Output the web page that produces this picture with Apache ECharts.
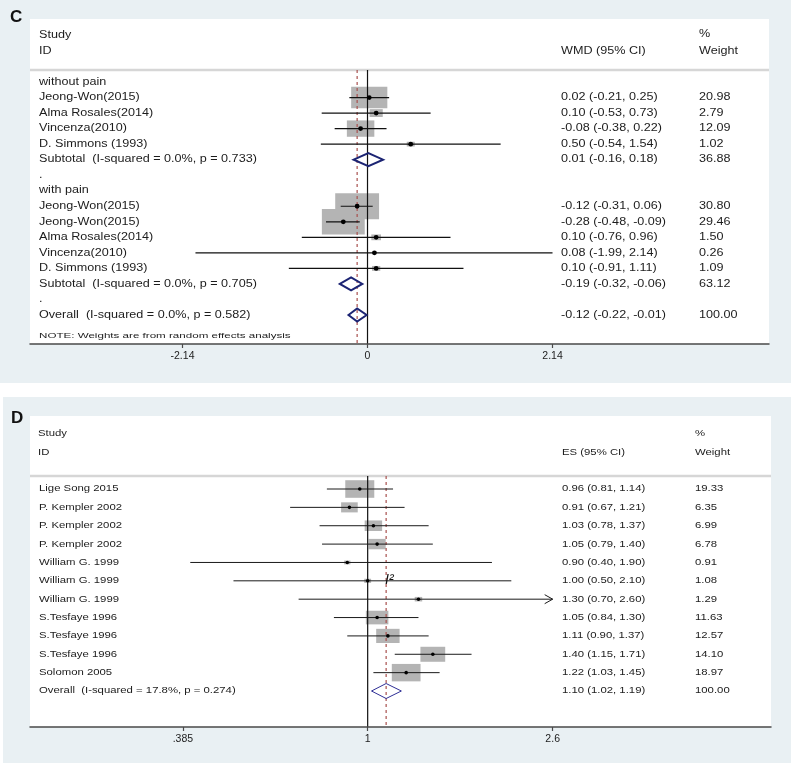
<!DOCTYPE html>
<html><head><meta charset="utf-8">
<script src="https://cdn.jsdelivr.net/npm/echarts@6/dist/echarts.min.js"></script>
<style>html,body{margin:0;padding:0;background:#fff}#chart{width:793px;height:765px}</style>
</head><body><div id="chart"></div>
<script>
// ---------- Panel C data (WMD) ----------
const cStudies = ["without pain","Jeong-Won(2015)","Alma Rosales(2014)","Vincenza(2010)","D. Simmons (1993)",
  "Subtotal  (I-squared = 0.0%, p = 0.733)",".","with pain","Jeong-Won(2015)","Jeong-Won(2015)",
  "Alma Rosales(2014)","Vincenza(2010)","D. Simmons (1993)","Subtotal  (I-squared = 0.0%, p = 0.705)",".",
  "Overall  (I-squared = 0.0%, p = 0.582)"];
const cKinds = ["group","study","study","study","study","pooled","blank","group","study","study","study","study","study","pooled","blank","pooled"];
const cEst    = [null, 0.02, 0.10, -0.08, 0.50, 0.01, null, null, -0.12, -0.28, 0.10, 0.08, 0.10, -0.19, null, -0.12];
const cLow    = [null,-0.21,-0.53, -0.38,-0.54,-0.16, null, null, -0.31, -0.48,-0.76,-1.99,-0.91, -0.32, null, -0.22];
const cHigh   = [null, 0.25, 0.73,  0.22, 1.54, 0.18, null, null,  0.06, -0.09, 0.96, 2.14, 1.11, -0.06, null, -0.01];
const cWeight = [null,20.98, 2.79, 12.09, 1.02,36.88, null, null, 30.80, 29.46, 1.50, 0.26, 1.09, 63.12, null,100.00];
const cTickValues = [-2.14, 0, 2.14];
const cTickLabels = ["-2.14", "0", "2.14"];
const cNull = 0;
const cOverall = -0.12;
const cHeader = {study:"Study", id:"ID", effect:"WMD (95% CI)", pct:"%", weight:"Weight"};
const cNote = "NOTE: Weights are from random effects analysis";

// ---------- Panel D data (ES, ratio scale) ----------
const dStudies = ["Lige Song 2015","P. Kempler 2002","P. Kempler 2002","P. Kempler 2002","William G. 1999",
  "William G. 1999","William G. 1999","S.Tesfaye 1996","S.Tesfaye 1996","S.Tesfaye 1996","Solomon 2005",
  "Overall  (I-squared = 17.8%, p = 0.274)"];
const dKinds = ["study","study","study","study","study","study","study","study","study","study","study","pooled"];
const dEst    = [0.96, 0.91, 1.03, 1.05, 0.90, 1.00, 1.30, 1.05, 1.11, 1.40, 1.22, 1.10];
const dLow    = [0.81, 0.67, 0.78, 0.79, 0.40, 0.50, 0.70, 0.84, 0.90, 1.15, 1.03, 1.02];
const dHigh   = [1.14, 1.21, 1.37, 1.40, 1.90, 2.10, 2.60, 1.30, 1.37, 1.71, 1.45, 1.19];
const dWeight = [19.33, 6.35, 6.99, 6.78, 0.91, 1.08, 1.29, 11.63, 12.57, 14.10, 18.97, 100.00];
const dTickValues = [0.385, 1, 2.6];
const dTickLabels = [".385", "1", "2.6"];
const dNull = 1;
const dOverall = 1.10;
const dHeader = {study:"Study", id:"ID", effect:"ES (95% CI)", pct:"%", weight:"Weight"};

// ---------- styling / layout ----------
const FONT = '"Liberation Sans", Arial, Helvetica, sans-serif';
const TXT = '#1c1c1c';
const BG = '#e9f0f3';

const panels = [
  { grid:{left:30, right:24, top:70, bottom:421}, xType:'value', xMin:-3.904, xMax:4.644, yMin:-0.7725, yMax:16.867,
    labels:cStudies, kinds:cKinds, est:cEst, low:cLow, high:cHigh, weight:cWeight, nullV:cNull, overall:cOverall,
    ticks:cTickValues, tickLabels:cTickLabels, labelX:39, esX:561, wX:699, fs:10, sx:1.26,
    boxW:7.9, boxH:4.7, dotR:2.4, ciW:1.2, ciColor:'#111', diaH:6.5, diaColor:'#1c2473', diaW:2, arrows:[] },
  { grid:{left:30, right:22, top:476, bottom:38}, xType:'log', xMin:0.1748, xMax:8.03, yMin:-0.708, yMax:12.96,
    labels:dStudies, kinds:dKinds, est:dEst, low:dLow, high:dHigh, weight:dWeight, nullV:dNull, overall:dOverall,
    ticks:dTickValues, tickLabels:dTickLabels, labelX:39, esX:562, wX:695, fs:9, sx:1.26,
    boxW:6.6, boxH:4.0, dotR:1.8, ciW:1, ciColor:'#1a1a1a', diaH:7.5, diaColor:'#2f2f96', diaW:1, arrows:[6] }
];

function fmt(v){ return v.toFixed(2); }
function tEl(x, y, s, fs, sx, extra){
  return Object.assign({type:'text', x:x, y:y, scaleX:sx,
    style:{text:s, fill:TXT, fontSize:fs, fontFamily:FONT, verticalAlign:'middle', align:'left'}}, extra || {});
}

function boxRender(p){
  return function(params, api){
    const i = params.dataIndex;
    if (p.kinds[i] !== 'study') return null;
    const c = api.coord([p.est[i], i]);
    const s = Math.sqrt(p.weight[i]);
    const w = p.boxW * s, h = p.boxH * s;
    return {type:'rect', shape:{x:c[0]-w/2, y:c[1]-h/2, width:w, height:h}, style:{fill:'#b4b4b4'}};
  };
}
function refRender(p){
  return function(params, api){
    const cs = params.coordSys;
    const x0 = api.coord([p.nullV, 0])[0];
    const x1 = api.coord([p.overall, 0])[0];
    return {type:'group', children:[
      {type:'line', shape:{x1:x0, y1:cs.y, x2:x0, y2:cs.y+cs.height}, style:{stroke:'#111', lineWidth:1.2}},
      {type:'line', shape:{x1:x1, y1:cs.y, x2:x1, y2:cs.y+cs.height}, style:{stroke:'#a8504e', lineWidth:1.2, lineDash:[3,3]}}
    ]};
  };
}
function mainRender(p){
  return function(params, api){
    const i = params.dataIndex;
    const yc = api.coord([p.nullV, i])[1];
    const kids = [tEl(p.labelX, yc, p.labels[i], p.fs, p.sx)];
    const k = p.kinds[i];
    if (k === 'study' || k === 'pooled'){
      kids.push(tEl(p.esX, yc, fmt(p.est[i]) + ' (' + fmt(p.low[i]) + ', ' + fmt(p.high[i]) + ')', p.fs, p.sx));
      kids.push(tEl(p.wX, yc, fmt(p.weight[i]), p.fs, p.sx));
      const a = api.coord([p.low[i], i]), b = api.coord([p.high[i], i]), c = api.coord([p.est[i], i]);
      if (k === 'study'){
        kids.push({type:'line', shape:{x1:a[0], y1:yc, x2:b[0], y2:yc}, style:{stroke:p.ciColor, lineWidth:p.ciW}});
        kids.push({type:'circle', shape:{cx:c[0], cy:yc, r:p.dotR}, style:{fill:'#000'}});
        if (p.arrows.indexOf(i) >= 0){
          kids.push({type:'polyline', shape:{points:[[b[0]-8, yc-4.5],[b[0], yc],[b[0]-8, yc+4.5]]},
            style:{stroke:p.ciColor, lineWidth:1, fill:null}});
        }
      } else {
        kids.push({type:'polygon', shape:{points:[[a[0], yc],[c[0], yc-p.diaH],[b[0], yc],[c[0], yc+p.diaH]]},
          style:{stroke:p.diaColor, lineWidth:p.diaW, fill:null}});
      }
    }
    return {type:'group', children:kids};
  };
}

function tickFormatter(p){
  return function(v){
    let best = 0, bd = Infinity;
    p.ticks.forEach(function(t, j){
      const d = p.xType === 'log' ? Math.abs(Math.log(t / v)) : Math.abs(t - v);
      if (d < bd){ bd = d; best = j; }
    });
    return p.tickLabels[best];
  };
}

const option = {
  backgroundColor:'#ffffff',
  animation:false,
  grid: panels.map(p => Object.assign({containLabel:false}, p.grid)),
  xAxis: panels.map((p, gi) => ({
    gridIndex:gi, type:p.xType, min:p.xMin, max:p.xMax, z:6,
    axisLine:{onZero:false, lineStyle:{color:'#4a4a4a', width:1.5}},
    axisTick:{show:true, length:4, customValues:p.ticks, lineStyle:{color:'#4a4a4a', width:1.2}},
    axisLabel:{show:true, customValues:p.ticks, formatter:tickFormatter(p), fontSize:10.5, color:TXT, fontFamily:FONT, margin:7},
    splitLine:{show:false}, minorTick:{show:false}
  })),
  yAxis: panels.map((p, gi) => ({gridIndex:gi, type:'value', inverse:true, min:p.yMin, max:p.yMax, show:false})),
  series: [].concat.apply([], panels.map((p, gi) => {
    const data = p.labels.map((_, i) => [p.nullV, i]);
    const base = {type:'custom', xAxisIndex:gi, yAxisIndex:gi, encode:{x:0, y:1}, clip:false, silent:true};
    return [
      Object.assign({}, base, {z:3, data:data, renderItem:boxRender(p)}),
      Object.assign({}, base, {z:4, data:[[p.nullV, 0]], renderItem:refRender(p)}),
      Object.assign({}, base, {z:5, data:data, renderItem:mainRender(p)})
    ];
  })),
  graphic: [
    {type:'rect', z:0, shape:{x:0, y:0, width:791, height:383}, style:{fill:BG}},
    {type:'rect', z:0, shape:{x:30, y:19, width:739, height:325}, style:{fill:'#ffffff'}},
    {type:'line', z:1, shape:{x1:30, y1:70, x2:769, y2:70}, style:{stroke:'#d6d6d6', lineWidth:2.5}},
    {type:'rect', z:0, shape:{x:3, y:397, width:788, height:366}, style:{fill:BG}},
    {type:'rect', z:0, shape:{x:30, y:416, width:741, height:311}, style:{fill:'#ffffff'}},
    {type:'line', z:1, shape:{x1:30, y1:476, x2:771, y2:476}, style:{stroke:'#d6d6d6', lineWidth:2.5}},
    {type:'text', z:2, x:10, y:17, style:{text:'C', fontSize:17, fontWeight:'bold', fontFamily:FONT, fill:'#111', verticalAlign:'middle'}},
    {type:'text', z:2, x:11, y:418, style:{text:'D', fontSize:17, fontWeight:'bold', fontFamily:FONT, fill:'#111', verticalAlign:'middle'}},
    tEl(39, 35, cHeader.study, 10, 1.26, {z:2}),
    tEl(39, 51, cHeader.id, 10, 1.26, {z:2}),
    tEl(561, 51, cHeader.effect, 10, 1.26, {z:2}),
    tEl(699, 34, cHeader.pct, 10, 1.26, {z:2}),
    tEl(699, 51, cHeader.weight, 10, 1.26, {z:2}),
    tEl(39, 336, cNote, 8, 1.45, {z:2}),
    tEl(38, 434, dHeader.study, 9, 1.26, {z:2}),
    tEl(38, 453, dHeader.id, 9, 1.26, {z:2}),
    tEl(562, 453, dHeader.effect, 9, 1.26, {z:2}),
    tEl(695, 434, dHeader.pct, 9, 1.26, {z:2}),
    tEl(695, 453, dHeader.weight, 9, 1.26, {z:2}),
    {type:'text', z:7, x:385, y:580, style:{text:'I²', fontSize:14, fontStyle:'italic', fontFamily:FONT, fill:'#111', verticalAlign:'middle'}}
  ]
};

const chart = echarts.init(document.getElementById('chart'), null, {renderer:'canvas'});
chart.setOption(option);
</script>
</body></html>
